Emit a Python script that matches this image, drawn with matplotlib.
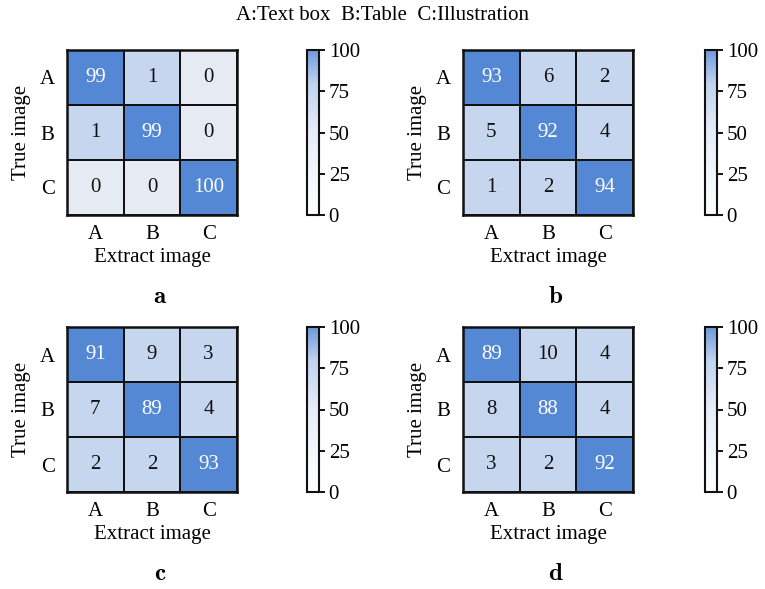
import numpy as np
import matplotlib
matplotlib.use("Agg")
import matplotlib.pyplot as plt
from matplotlib.colors import ListedColormap, BoundaryNorm, LinearSegmentedColormap
from matplotlib.cm import ScalarMappable

plt.rcParams['font.family'] = ['Liberation Serif', 'DejaVu Serif']
plt.rcParams['mathtext.fontset'] = 'cm'

classes = ['A', 'B', 'C']
panel_names = ['a', 'b', 'c', 'd']
conf_a = [[99, 1, 0], [1, 99, 0], [0, 0, 100]]
conf_b = [[93, 6, 2], [5, 92, 4], [1, 2, 94]]
conf_c = [[91, 9, 3], [7, 89, 4], [2, 2, 93]]
conf_d = [[89, 10, 4], [8, 88, 4], [3, 2, 92]]
matrices = [conf_a, conf_b, conf_c, conf_d]
cbar_ticks = [0, 25, 50, 75, 100]

# cell shading: zero / small share / dominant share
cell_cmap = ListedColormap(['#e6ebf3', '#c6d6ee', '#5488d4'])
cell_norm = BoundaryNorm([-0.5, 0.5, 50, 100.5], cell_cmap.N)
bar_cmap = LinearSegmentedColormap.from_list(
    'bar', [(0, '#ffffff'), (0.5, '#e6edf8'), (0.8, '#bfd2ef'), (1, '#7099da')])

fig = plt.figure(figsize=(7.65, 5.89), dpi=100)

W, H = 765, 589
heat_left = [67, 463, 67, 463]
heat_top = [50, 50, 327, 327]
cbar_left = [307, 705, 307, 705]
hw, hh = 170, 165
fs = 15

for i, mat in enumerate(matrices):
    mat = np.array(mat)
    x0, y0 = heat_left[i], heat_top[i]
    ax = fig.add_axes([x0 / W, 1 - (y0 + hh) / H, hw / W, hh / H])
    ax.pcolormesh(np.arange(4), np.arange(4), mat, cmap=cell_cmap, norm=cell_norm,
                  edgecolors='#111111', linewidth=1.3)
    ax.set_xlim(0, 3)
    ax.set_ylim(3, 0)
    for r in range(3):
        for c in range(3):
            v = mat[r, c]
            ax.text(c + 0.5, r + 0.5, str(v), ha='center', va='center', fontsize=fs,
                    color='white' if v > 50 else '#111111')
    ax.set_xticks(np.arange(3) + 0.5)
    ax.set_yticks(np.arange(3) + 0.5)
    ax.set_xticklabels(classes, fontsize=fs)
    ax.set_yticklabels(classes, fontsize=fs)
    ax.tick_params(axis='x', length=0, pad=7)
    ax.tick_params(axis='y', length=0, pad=9)
    for s in ax.spines.values():
        s.set_linewidth(1.8)
        s.set_color('#111111')
    ax.set_xlabel('Extract image', fontsize=fs, labelpad=3)
    ax.set_ylabel('True image', fontsize=fs, labelpad=6)

    cax = fig.add_axes([cbar_left[i] / W, 1 - (y0 + hh) / H, 12 / W, hh / H])
    sm = ScalarMappable(cmap=bar_cmap, norm=plt.Normalize(0, 100))
    cb = fig.colorbar(sm, cax=cax, ticks=cbar_ticks)
    cb.outline.set_linewidth(1.5)
    cb.outline.set_edgecolor('#111111')
    cax.tick_params(labelsize=fs, length=4, width=1.3, pad=3)

    lx = (x0 + hw / 2 + 8) / W
    ly = 1 - (y0 + 247) / H
    fig.text(lx, ly, r'$\mathbf{' + panel_names[i] + '}$', ha='center', va='center', fontsize=18)

fig.text(383 / W, 1 - 15 / H, 'A:Text box  B:Table  C:Illustration', ha='center', va='center',
         fontsize=fs)

fig.savefig('out.png', dpi=100)
